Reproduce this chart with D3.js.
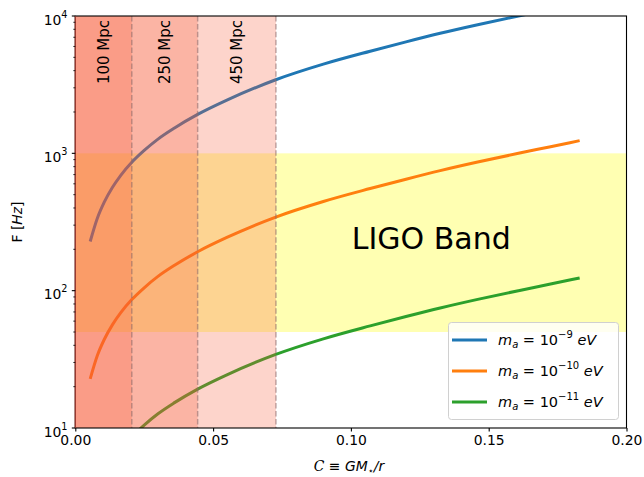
<!DOCTYPE html>
<html><head><meta charset="utf-8">
<script src="https://cdn.jsdelivr.net/npm/d3@7"></script>
<style>body{margin:0;background:#fff}svg{display:block;font-family:"DejaVu Sans",sans-serif}</style>
</head><body><svg id="c" width="644" height="477"></svg>
<script>
// ---- data ----
const compactness = [0.0054, 0.008, 0.0105, 0.0135, 0.0165, 0.0205, 0.025, 0.030, 0.036, 0.0444, 0.055, 0.0725, 0.09, 0.107, 0.12, 0.1324, 0.146, 0.1608, 0.172, 0.183];
const freqMa9  = [228, 337, 441, 566, 692, 861, 1050, 1270, 1530, 1920, 2440, 3420, 4460, 5540, 6480, 7480, 8640, 10000, 11130, 12370];
const freqMa10 = [22.8, 33.7, 44.1, 56.6, 69.2, 86.1, 105, 127, 153, 192, 244, 342, 446, 554, 648, 748, 864, 1000, 1113, 1237];
const freqMa11 = [2.28, 3.37, 4.41, 5.66, 6.92, 8.61, 10.5, 12.7, 15.3, 19.2, 24.4, 34.2, 44.6, 55.4, 64.8, 74.8, 86.4, 100, 111.3, 123.7];
const seriesExp = ["-9", "-10", "-11"];
const seriesColors = ["#1f77b4", "#ff7f0e", "#2ca02c"];
const distEdges = [0.0205, 0.0444, 0.0728];
const distLabels = ["100 Mpc", "250 Mpc", "450 Mpc"];
const ligoBand = [50, 1000];
const xTicks = [0, 0.05, 0.10, 0.15, 0.20];
const yTickExp = [1, 2, 3, 4];

// ---- layout ----
const svg = d3.select("#c");
const L = 75.3, R = 626.5, T = 16, B = 428;
const x = d3.scaleLinear().domain([0, 0.2]).range([L, R]);
const y = d3.scaleLog().domain([10, 1e4]).range([B, T]);

svg.append("defs").append("clipPath").attr("id", "clip")
  .append("rect").attr("x", L).attr("y", T).attr("width", R - L).attr("height", B - T);
const plot = svg.append("g").attr("clip-path", "url(#clip)");

// LIGO band (yellow, translucent, under the curves)
plot.append("rect").attr("x", L).attr("width", R - L)
  .attr("y", y(ligoBand[1])).attr("height", y(ligoBand[0]) - y(ligoBand[1]))
  .attr("fill", "#ffff00").attr("fill-opacity", 0.3);

// curves
const series = [freqMa9, freqMa10, freqMa11];
const line = d3.line().x(d => x(d[0])).y(d => y(d[1])).curve(d3.curveMonotoneX);
series.forEach((s, i) => {
  plot.append("path").datum(compactness.map((c, j) => [c, s[j]]))
    .attr("d", line).attr("fill", "none").attr("stroke", seriesColors[i])
    .attr("stroke-width", 3).attr("stroke-linecap", "butt");
});

// distance spans (overlapping, on top)
distEdges.forEach(e => {
  plot.append("rect").attr("x", x(0)).attr("y", T).attr("width", x(e) - x(0)).attr("height", B - T)
    .attr("fill", "#f85a38").attr("fill-opacity", 0.26);
});
distEdges.forEach(e => {
  plot.append("line").attr("x1", x(e)).attr("x2", x(e)).attr("y1", T).attr("y2", B)
    .attr("stroke", "#8a6a6a").attr("stroke-opacity", 0.55).attr("stroke-width", 1.5)
    .attr("stroke-dasharray", "5.5,2.4");
});
// span labels
distLabels.forEach((t, i) => {
  const x0 = i === 0 ? 0 : distEdges[i - 1];
  const cx = (x(x0) + x(distEdges[i])) / 2;
  svg.append("text").attr("transform", `translate(${cx},20) rotate(-90)`)
    .attr("text-anchor", "end").attr("dominant-baseline", "central")
    .attr("font-size", 15).attr("fill", "#000").text(t);
});

// LIGO label
svg.append("text").attr("x", x(0.1003)).attr("y", 248.5).attr("font-size", 30)
  .attr("fill", "#000").text("LIGO Band");

// frame
svg.append("rect").attr("x", L).attr("y", T).attr("width", R - L).attr("height", B - T)
  .attr("fill", "none").attr("stroke", "#000").attr("stroke-width", 1.1);
svg.append("line").attr("x1", L).attr("x2", L).attr("y1", T).attr("y2", B)
  .attr("stroke", "#9a3a30").attr("stroke-width", 1.4);

// x axis
const xAxis = d3.axisBottom(x).tickValues(xTicks).tickFormat(d3.format(".2f")).tickSize(3.5).tickPadding(3.5);
const gx = svg.append("g").attr("transform", `translate(0,${B})`).call(xAxis);
gx.select(".domain").remove();
gx.selectAll("text").attr("font-size", 13.9).attr("font-family", "DejaVu Sans").attr("fill", "#000");
gx.selectAll("line").attr("stroke", "#000").attr("stroke-width", 1.1);

// y axis: major + minor ticks
const g = svg.append("g");
const minor = [];
for (let e = 1; e < 4; e++) for (let m = 2; m <= 9; m++) minor.push(m * Math.pow(10, e));
g.selectAll("line.minor").data(minor).join("line")
  .attr("x1", L - 2).attr("x2", L).attr("y1", d => y(d)).attr("y2", d => y(d))
  .attr("stroke", "#000").attr("stroke-width", 0.8);
yTickExp.forEach(e => {
  const yy = y(Math.pow(10, e));
  g.append("line").attr("x1", L - 3.5).attr("x2", L).attr("y1", yy).attr("y2", yy)
    .attr("stroke", "#000").attr("stroke-width", 1.1);
  const t = g.append("text").attr("x", 67.5).attr("y", yy + 8.5).attr("text-anchor", "end")
    .attr("font-size", 13.9).attr("fill", "#000");
  t.append("tspan").text("10");
  t.append("tspan").attr("dy", -7).attr("font-size", 9.7).text(String(e));
});

// axis labels
const yl = svg.append("text").attr("transform", `translate(22,${(T + B) / 2}) rotate(-90)`)
  .attr("text-anchor", "middle").attr("font-size", 13.9).attr("fill", "#000");
yl.append("tspan").text("F ");
yl.append("tspan").text("[");
yl.append("tspan").attr("font-style", "italic").text("Hz");
yl.append("tspan").text("]");

const xl = svg.append("text").attr("x", 349).attr("y", 471).attr("text-anchor", "middle")
  .attr("font-size", 13.9).attr("fill", "#000");
xl.append("tspan").attr("font-style", "italic").attr("font-family", "DejaVu Serif").text("C");
xl.append("tspan").text(" ≡ ");
xl.append("tspan").attr("font-style", "italic").text("GM");
xl.append("tspan").attr("dy", 3).attr("font-size", 9.7).text("⋆");
xl.append("tspan").attr("dy", -3).attr("font-style", "italic").text("/r");

// legend
const lg = svg.append("g");
lg.append("rect").attr("x", 448.5).attr("y", 322.5).attr("width", 170).attr("height", 97)
  .attr("rx", 3).attr("fill", "#fff").attr("fill-opacity", 0.8)
  .attr("stroke", "#d0d0d0").attr("stroke-width", 1);
seriesExp.forEach((ex, i) => {
  const yy = 340 + i * 31;
  lg.append("line").attr("x1", 452).attr("x2", 487).attr("y1", yy).attr("y2", yy)
    .attr("stroke", seriesColors[i]).attr("stroke-width", 3);
  const t = lg.append("text").attr("x", 498).attr("y", yy + 5).attr("font-size", 14.5).attr("fill", "#000");
  t.append("tspan").attr("font-style", "italic").text("m");
  t.append("tspan").attr("dy", 3).attr("font-size", 10).attr("font-style", "italic").text("a");
  t.append("tspan").attr("dy", -3).text(" = 10");
  t.append("tspan").attr("dy", -7).attr("font-size", 10).text(ex.replace("-", "−"));
  t.append("tspan").attr("dy", 7).attr("font-style", "italic").text(" eV");
});
</script></body></html>
